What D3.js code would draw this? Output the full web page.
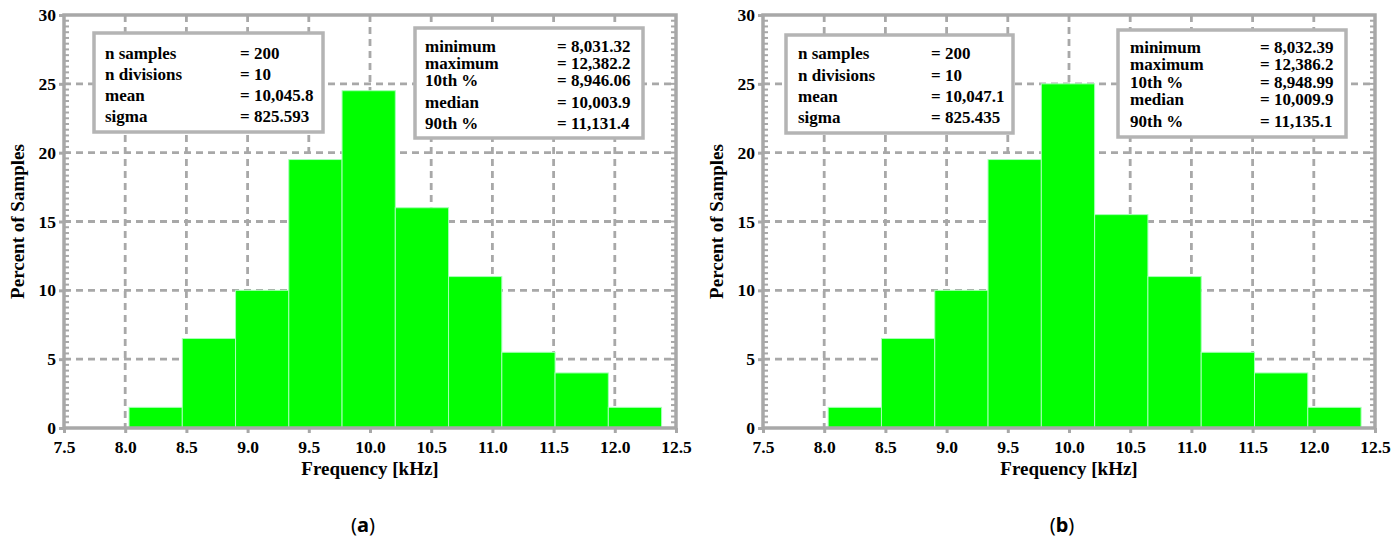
<!DOCTYPE html>
<html>
<head>
<meta charset="utf-8">
<script src="https://cdn.jsdelivr.net/npm/d3@7"></script>
<style>
  html, body { margin: 0; padding: 0; background: #fff; }
  svg { display: block; }
</style>
</head>
<body>
<svg id="chart" width="1397" height="545"></svg>
<script>
// ---- Data ----
const xTicks = [7.5, 8.0, 8.5, 9.0, 9.5, 10.0, 10.5, 11.0, 11.5, 12.0, 12.5];
const yTicks = [0, 5, 10, 15, 20, 25, 30];

// Run (a): percent of samples per division, range [min, max] in kHz
const percentA = [1.5, 6.5, 10, 19.5, 24.5, 16, 11, 5.5, 4, 1.5];
const rangeA = [8.03132, 12.3822];
const statsLeftA = [["n samples", "= 200"], ["n divisions", "= 10"], ["mean", "= 10,045.8"], ["sigma", "= 825.593"]];
const statsRightA = [["minimum", "= 8,031.32"], ["maximum", "= 12,382.2"], ["10th %", "= 8,946.06"], ["median", "= 10,003.9"], ["90th %", "= 11,131.4"]];

// Run (b)
const percentB = [1.5, 6.5, 10, 19.5, 25, 15.5, 11, 5.5, 4, 1.5];
const rangeB = [8.03239, 12.3862];
const statsLeftB = [["n samples", "= 200"], ["n divisions", "= 10"], ["mean", "= 10,047.1"], ["sigma", "= 825.435"]];
const statsRightB = [["minimum", "= 8,032.39"], ["maximum", "= 12,386.2"], ["10th %", "= 8,948.99"], ["median", "= 10,009.9"], ["90th %", "= 11,135.1"]];

const captions = ["a", "b"];

// ---- Layout ----
const panels = [
  { x0: 64, percent: percentA, range: rangeA, caption: captions[0],
    box1: { x: 94, y: 33, w: 229, h: 99, lx: 105, vx: 240, rows: [53, 74, 95, 116], stats: statsLeftA },
    box2: { x: 415, y: 28, w: 228, h: 110, lx: 425, vx: 557, rows: [46, 63, 80, 102, 123], stats: statsRightA } },
  { x0: 763, percent: percentB, range: rangeB, caption: captions[1],
    box1: { x: 786, y: 35, w: 227, h: 98, lx: 798, vx: 931, rows: [53, 75, 96, 117], stats: statsLeftB },
    box2: { x: 1118, y: 30, w: 228, h: 107, lx: 1130, vx: 1260, rows: [47, 64, 82, 99, 121], stats: statsRightB } }
];

const plotW = 612, plotTop = 15, plotBottom = 428;
const grey = "#a8a8a8";
const serif = "'Liberation Serif', 'Times New Roman', serif";

const svg = d3.select("#chart");

panels.forEach(p => {
  const x = d3.scaleLinear().domain([7.5, 12.5]).range([p.x0, p.x0 + plotW]);
  const y = d3.scaleLinear().domain([0, 30]).range([plotBottom, plotTop]);
  const g = svg.append("g");

  // dashed grid
  g.append("g").selectAll("line").data(xTicks.slice(1, -1)).join("line")
    .attr("x1", d => x(d)).attr("x2", d => x(d))
    .attr("y1", plotTop).attr("y2", plotBottom)
    .attr("stroke", grey).attr("stroke-width", 2.8).attr("stroke-dasharray", "7,5");
  g.append("g").selectAll("line").data(yTicks.slice(1, -1)).join("line")
    .attr("x1", x(7.5)).attr("x2", x(12.5))
    .attr("y1", d => y(d)).attr("y2", d => y(d))
    .attr("stroke", grey).attr("stroke-width", 2.8).attr("stroke-dasharray", "7,5");

  // histogram bars
  const n = p.percent.length;
  const edges = d3.range(n + 1).map(i => p.range[0] + (p.range[1] - p.range[0]) * i / n);
  g.append("g").selectAll("rect").data(p.percent).join("rect")
    .attr("x", (d, i) => x(edges[i]))
    .attr("width", (d, i) => x(edges[i + 1]) - x(edges[i]))
    .attr("y", d => y(d))
    .attr("height", d => y(0) - y(d))
    .attr("fill", "#00ff00")
    .attr("stroke", "#a8ffb8").attr("stroke-width", 1);

  // minor ticks on left and right frame
  const minor = d3.range(0, 30, 5 / 12);
  g.append("g").selectAll("line").data(minor).join("line")
    .attr("x1", x(7.5)).attr("x2", x(7.5) + 5)
    .attr("y1", d => y(d)).attr("y2", d => y(d))
    .attr("stroke", grey).attr("stroke-width", 2);
  g.append("g").selectAll("line").data(minor).join("line")
    .attr("x1", x(12.5)).attr("x2", x(12.5) - 5)
    .attr("y1", d => y(d)).attr("y2", d => y(d))
    .attr("stroke", grey).attr("stroke-width", 2);

  // frame
  g.append("rect")
    .attr("x", x(7.5)).attr("y", plotTop)
    .attr("width", plotW).attr("height", plotBottom - plotTop)
    .attr("fill", "none").attr("stroke", grey).attr("stroke-width", 3.5);

  // axes
  const xAxis = d3.axisBottom(x).tickValues(xTicks).tickFormat(d3.format(".1f")).tickSize(5).tickPadding(8);
  const ax = g.append("g").attr("transform", `translate(0,${plotBottom})`).call(xAxis);
  const yAxis = d3.axisLeft(y).tickValues(yTicks).tickFormat(d3.format("d")).tickSize(5).tickPadding(3);
  const ay = g.append("g").attr("transform", `translate(${x(7.5)},0)`).call(yAxis);
  [ax, ay].forEach(a => {
    a.select(".domain").remove();
    a.selectAll(".tick line").attr("stroke", grey).attr("stroke-width", 3);
    a.selectAll("text").attr("font-family", serif).attr("font-weight", "bold")
      .attr("font-size", 17.5).attr("fill", "#000");
  });

  // axis titles
  g.append("text")
    .attr("x", x(10)).attr("y", 475)
    .attr("text-anchor", "middle")
    .attr("font-family", serif).attr("font-weight", "bold").attr("font-size", 19)
    .text("Frequency [kHz]");
  g.append("text")
    .attr("transform", `translate(${p.x0 - 40},${y(15)}) rotate(-90)`)
    .attr("text-anchor", "middle")
    .attr("font-family", serif).attr("font-weight", "bold").attr("font-size", 19)
    .text("Percent of Samples");

  // statistics boxes
  [p.box1, p.box2].forEach(b => {
    const bg = g.append("g");
    bg.append("rect")
      .attr("x", b.x).attr("y", b.y).attr("width", b.w).attr("height", b.h)
      .attr("fill", "#fff").attr("stroke", "#b4b4b4").attr("stroke-width", 3.5);
    b.stats.forEach((s, i) => {
      bg.append("text").attr("x", b.lx).attr("y", b.rows[i]).attr("dy", "0.33em")
        .attr("font-family", serif).attr("font-weight", "bold").attr("font-size", 17)
        .text(s[0]);
      bg.append("text").attr("x", b.vx).attr("y", b.rows[i]).attr("dy", "0.33em")
        .attr("font-family", serif).attr("font-weight", "bold").attr("font-size", 17)
        .text(s[1]);
    });
  });

  // panel caption
  const cap = g.append("text")
    .attr("x", x(10) - 7).attr("y", 532)
    .attr("text-anchor", "middle")
    .attr("font-family", "'Noto Sans', sans-serif").attr("font-size", 20);
  cap.append("tspan").text("(");
  cap.append("tspan").attr("font-weight", "bold").text(p.caption);
  cap.append("tspan").text(")");
});
</script>
</body>
</html>
